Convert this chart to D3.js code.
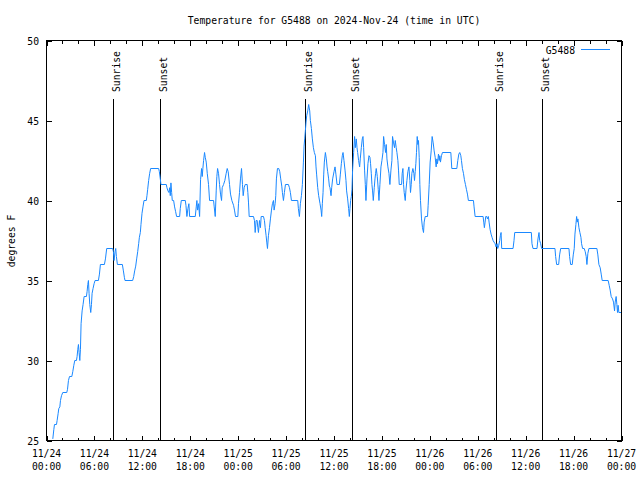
<!DOCTYPE html>
<html><head><meta charset="utf-8">
<script src="https://cdn.jsdelivr.net/npm/d3@7"></script>
<style>body{margin:0;background:#fff}svg{display:block}</style>
</head><body>
<svg id="c" width="640" height="480"></svg>
<script>
const chartTitle = "Temperature for G5488 on 2024-Nov-24 (time in UTC)";
const yAxisLabel = "degrees F";
const seriesName = "G5488";

// hours since 2024-11-24 00:00 UTC
const hours = [
0.79,0.92,1.0,1.25,1.33,1.46,1.54,1.67,1.75,1.88,
2.04,2.54,2.63,2.75,2.88,3.17,3.29,3.42,3.54,3.75,
3.83,3.92,4.0,4.08,4.17,4.25,4.33,4.46,4.58,4.71,
5.0,5.08,5.17,5.25,5.33,5.42,5.54,5.63,5.71,5.83,
5.96,6.08,6.5,6.63,6.75,7.25,7.38,7.54,8.29,8.38,
8.46,8.58,8.67,8.75,8.88,9.5,9.63,9.75,9.83,10.79,
10.92,11.04,11.17,11.29,11.42,11.54,11.63,11.75,11.83,11.96,
12.08,12.21,12.5,12.58,12.67,12.79,12.92,13.04,14.04,14.13,
14.25,14.33,15.0,15.08,15.21,15.33,15.42,15.5,15.58,15.67,
15.75,15.92,16.04,16.17,16.29,16.67,16.75,16.88,17.38,17.46,
17.58,17.71,17.83,17.92,18.63,18.75,18.83,18.92,19.04,19.17,
19.29,19.42,19.5,19.58,19.67,19.79,19.88,20.0,20.13,20.29,
20.42,20.92,21.0,21.13,21.25,21.33,21.42,21.54,21.67,21.79,
21.92,22.0,22.17,22.33,22.5,22.63,22.75,22.92,23.04,23.21,
23.42,23.54,23.67,23.96,24.04,24.17,24.29,24.42,24.54,24.63,
24.75,24.88,25.13,25.21,25.29,25.38,25.92,26.04,26.13,26.25,
26.38,26.46,26.54,26.67,26.79,26.88,27.17,27.29,27.38,27.5,
27.58,27.67,27.79,27.92,28.04,28.17,28.29,28.42,28.5,28.63,
28.71,28.79,28.92,29.08,29.21,29.33,29.46,29.54,29.67,29.79,
29.92,30.29,30.42,30.54,30.67,31.46,31.54,31.67,31.79,31.92,
32.04,32.17,32.25,32.33,32.42,32.5,32.58,32.71,32.83,32.96,
33.04,33.17,33.29,33.42,33.54,33.67,33.75,33.83,33.96,34.08,
34.25,34.38,34.46,34.54,34.63,34.71,34.79,34.92,35.04,35.13,
35.21,35.33,35.42,35.5,35.63,35.71,35.83,36.0,36.13,36.25,
36.38,36.67,36.79,36.92,37.04,37.13,37.25,37.38,37.5,37.58,
37.71,37.83,37.92,38.0,38.08,38.17,38.25,38.33,38.46,38.58,
38.67,38.79,38.88,38.96,39.08,39.21,39.29,39.42,39.54,39.63,
39.71,39.83,39.92,40.0,40.13,40.25,40.38,40.5,40.58,40.67,
40.75,40.83,40.92,41.04,41.13,41.21,41.29,41.42,41.54,41.63,
41.75,41.88,42.0,42.13,42.21,42.33,42.46,42.54,42.63,42.75,
42.88,43.0,43.13,43.25,43.33,43.46,43.58,43.67,43.79,43.88,
44.0,44.08,44.17,44.46,44.54,44.63,44.71,44.79,44.92,45.0,
45.13,45.25,45.38,45.5,45.58,45.67,45.75,45.88,46.0,46.08,
46.17,46.25,46.33,46.42,46.5,46.58,46.67,46.75,46.83,46.96,
47.08,47.21,47.29,47.42,47.71,47.79,47.92,48.04,48.17,48.29,
48.42,48.54,48.67,48.79,48.88,48.96,49.08,49.17,49.25,49.33,
49.46,49.58,50.63,50.75,51.38,51.5,51.63,51.75,51.88,51.96,
52.08,52.21,52.33,52.46,52.58,52.71,52.83,53.46,53.54,53.67,
54.67,54.75,54.83,54.92,55.0,55.13,55.21,55.33,55.42,55.54,
55.67,55.79,55.92,56.04,56.17,56.29,56.42,56.5,56.63,56.75,
56.83,56.92,57.0,58.42,58.54,58.63,60.71,60.79,60.92,61.42,
61.54,61.67,61.75,61.88,62.0,63.67,63.75,63.88,64.13,64.25,
64.38,65.42,65.5,65.63,65.83,65.96,66.08,66.17,66.29,66.38,
66.46,66.54,66.67,66.79,66.92,67.0,67.13,67.33,67.46,67.58,
67.67,67.79,67.92,68.92,69.04,69.17,69.33,69.46,69.58,70.33,
70.46,70.58,70.71,70.88,71.0,71.13,71.21,71.33,71.42,71.5,
71.58,71.67,72.0
];

// temperature, degrees F
const temps = [
25.1,25.7,26,26,26.25,26.7,27,27.1,27.5,27.8,
28,28,28.2,28.75,29,29,29.3,29.7,30,30,
30.25,30.7,31,30.5,30,30.7,32.3,33.1,33.5,34,
34,34.3,34.75,35,34.2,33.5,33,33.5,34.2,34.5,
34.8,35,35,35.4,36,36,36.35,37,37,36.8,
36.25,36.8,37,36.5,36,36,35.6,35.2,35,35,
35.25,35.6,35.9,36.35,36.8,37.3,37.7,38,38.5,39.2,
39.6,40,40,40.3,40.7,41.25,41.7,42,42,41.8,
41.35,41,41,40.8,40.6,40.5,40.8,40.3,41.1,40.5,
40,40,39.6,39.3,39,39,39.5,40,40,39.7,
39,39.5,39.8,39,39,39.6,40,39.4,39.8,39,
41.3,42,41.5,42,42.5,43,42.7,42.4,41.7,41,
40,40,39.6,39,40.6,41.5,42,41.7,41,40.4,
40,40.8,41,41.25,41.7,42,41.8,41,40.4,40,
39.7,39.4,39,39,39.8,40.5,41.35,42,41,40.3,
40.8,41,41,40.5,39.9,39,39,38.75,38,38.75,
38.75,38.3,38,38.75,38.3,39,39,38.75,38.3,37.8,
37.4,37,37.8,38.3,38.85,39.4,39.8,40,39.4,39.8,
40.3,41.35,42,42,41.8,41.35,40.9,40.5,40,40.5,
41,41,40.8,40.5,40,40,39.5,39,39.8,40.3,
41,42.4,43.4,43.85,44.4,44.9,45.3,45.6,46,45.6,
45,44.5,43.85,43.3,43,42.8,42.1,41.6,40.8,40.3,
39.8,39.4,39,39.8,40.5,41.6,42.4,43,42.6,42.1,
41.8,41.35,40.9,40.8,40.3,40.8,41.35,41.8,42.1,41.6,
41,41,41.6,42.3,42.8,43,42.5,41.9,41.25,40.6,
40.1,39.5,39,39.5,40,40.25,40.7,41.9,43,44,
43.3,43.85,43.3,43,42.5,42.1,42.6,43.3,43.85,44,
43.3,41.9,41,40,41.35,42.3,42.8,42.7,42.3,41.7,
41,40.6,40,40.8,41.35,41.7,42,41.5,40.7,40,
41,42.1,42.5,43,44,43.5,43,43.5,42.6,42.1,
41.7,41,41.9,42.5,44,43.6,43.3,43.75,43.3,43,
42.5,41.9,41,41,41.7,42,41,40.5,40,40.6,
41.25,41.8,42.1,41.25,40.5,41,41.7,42,41.7,41.25,
41.8,42.3,43,44,43.5,43.75,42.7,41,40,38.85,
38.3,38,38.65,39,39,39.7,41,42.4,43.1,44,
43.6,43.1,42.7,42.1,42.6,42.3,42.9,42.5,42.8,42.4,
42.8,43,43,42,42,42.5,42.9,43,42.8,42.5,
42,41.7,41.3,41,40.7,40.4,40,40,39.6,39,
39,38.65,38.3,38.65,39,39,38.85,39,38.65,38.2,
37.9,37.7,37.5,37.4,37.3,37.1,37.3,37,37.2,37.5,
37.8,38,37,37,37.5,38,38,37.3,37,37,
37.6,38,37.5,37.3,37,37,36.5,36,36,36.6,
37,37,36.5,36,36,36.6,37,37.9,38.5,39,
38.65,38.85,38.3,38,37.7,37.3,37,37,36.8,36.5,
36,36.7,37,37,36.6,36,35.8,35.4,35,35,
34.7,34.4,34,33.85,33.65,33.1,33.65,34,33.5,33,
33.45,33,33
];

const sunLabels = ["Sunrise","Sunset","Sunrise","Sunset","Sunrise","Sunset"];
const sunHours = [8.39,14.27,32.43,38.32,56.41,62.17];

const xTickHours = [0,6,12,18,24,30,36,42,48,54,60,66,72];
const xTickDates = ["11/24","11/24","11/24","11/24","11/25","11/25","11/25","11/25","11/26","11/26","11/26","11/26","11/27"];
const xTickTimes = ["00:00","06:00","12:00","18:00","00:00","06:00","12:00","18:00","00:00","06:00","12:00","18:00","00:00"];
const xMinorHours = d3.range(0, 73, 2);
const yTicks = [25,30,35,40,45,50];

const L = 46.5, R = 621.5, T = 40.5, B = 440.5;
const FONT = "DejaVu Sans Mono";
const FS = 11, CW = 5.85;

const svg = d3.select("#c");
const x = d3.scaleLinear().domain([0,72]).range([L,R]);
const y = d3.scaleLinear().domain([25,50]).range([B,T]);

function txt(g, s, attrs) {
  const t = g.append("text").text(s)
    .attr("font-family", FONT).attr("font-size", FS).attr("fill", "#000")
    .attr("textLength", s.length * CW).attr("lengthAdjust", "spacingAndGlyphs");
  for (const k in attrs) t.attr(k, attrs[k]);
  return t;
}

// title
txt(svg, chartTitle, {x: (L+R)/2, y: 23.5, "text-anchor": "middle"});

// axes (ticks drawn inward, mirrored)
const xAxisB = d3.axisBottom(x).tickValues(xMinorHours).tickSize(-3).tickFormat("");
const xAxisT = d3.axisTop(x).tickValues(xMinorHours).tickSize(-3).tickFormat("");
const xMajB = d3.axisBottom(x).tickValues(xTickHours).tickSize(-5).tickFormat("");
const xMajT = d3.axisTop(x).tickValues(xTickHours).tickSize(-5).tickFormat("");
const yAxisL = d3.axisLeft(y).tickValues(yTicks).tickSize(-5).tickFormat("");
const yAxisR = d3.axisRight(y).tickValues(yTicks).tickSize(-5).tickFormat("");
[[xAxisB,`translate(0,${B})`],[xAxisT,`translate(0,${T})`],[xMajB,`translate(0,${B})`],[xMajT,`translate(0,${T})`],
 [yAxisL,`translate(${L},0)`],[yAxisR,`translate(${R},0)`]].forEach(([ax,tr]) => {
  const g = svg.append("g").attr("transform", tr).call(ax);
  g.select(".domain").remove();
  g.selectAll("line").attr("stroke","#000").attr("stroke-width",1).attr("shape-rendering","crispEdges");
});

// y tick labels
yTicks.forEach(v => txt(svg, String(v), {x: 39, y: y(v) + 4, "text-anchor": "end"}));
// x tick labels
xTickHours.forEach((h,i) => {
  txt(svg, xTickDates[i], {x: x(h), y: 457, "text-anchor": "middle"});
  txt(svg, xTickTimes[i], {x: x(h), y: 470, "text-anchor": "middle"});
});
// y axis label
txt(svg, yAxisLabel, {transform: `translate(15,241) rotate(-90)`, "text-anchor": "middle"});

// clip
svg.append("clipPath").attr("id","pc").append("rect").attr("x",L).attr("y",T).attr("width",R-L).attr("height",B-T);

// sun lines
sunHours.forEach((h,i) => {
  const xx = Math.round(x(h) - 0.5) + 0.5;
  svg.append("line").attr("x1",xx).attr("x2",xx).attr("y1",99).attr("y2",B)
    .attr("stroke","#000").attr("stroke-width",1).attr("shape-rendering","crispEdges");
  txt(svg, sunLabels[i], {transform: `translate(${xx+6},92) rotate(-90)`, "text-anchor": "start"});
});

// data line
const data = d3.zip(hours, temps);
svg.append("path").datum(data)
  .attr("clip-path","url(#pc)")
  .attr("fill","none").attr("stroke","#1a88ff").attr("stroke-width",1)
  .attr("d", d3.line().x(d => x(d[0])).y(d => y(d[1])));

// legend
txt(svg, seriesName, {x: 575, y: 53.5, "text-anchor": "end"});
svg.append("line").attr("x1",581).attr("x2",610).attr("y1",49.5).attr("y2",49.5)
  .attr("stroke","#1a88ff").attr("stroke-width",1);

// border
svg.append("rect").attr("x",L).attr("y",T).attr("width",R-L).attr("height",B-T)
  .attr("fill","none").attr("stroke","#000").attr("stroke-width",1).attr("shape-rendering","crispEdges");
</script>
</body></html>
